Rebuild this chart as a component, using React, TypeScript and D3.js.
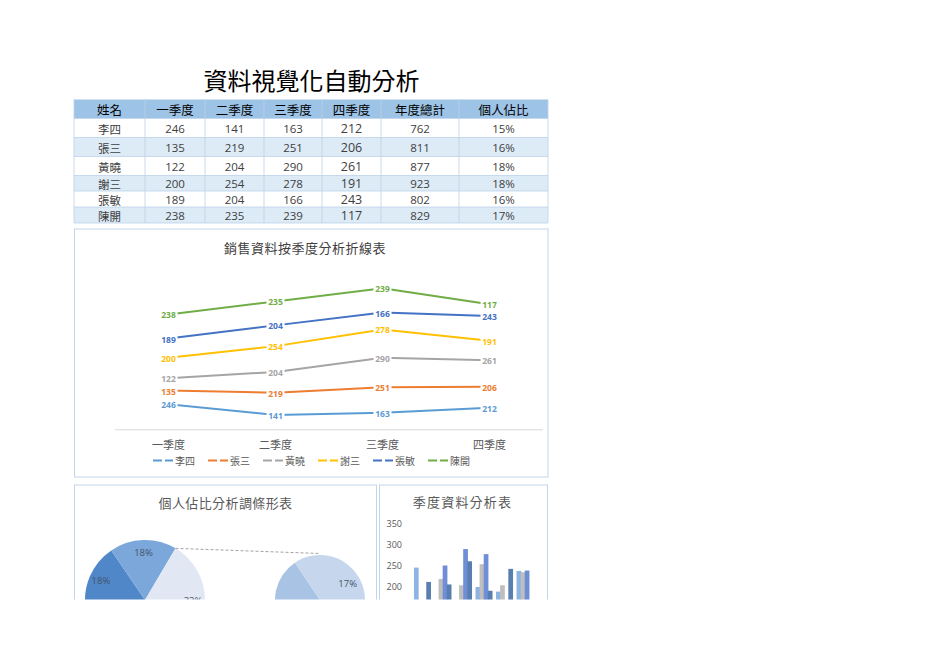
import React from 'react';
import * as d3 from 'd3';

const names = ['李四', '張三', '黃曉', '謝三', '張敏', '陳開'];
const quarters = ['一季度', '二季度', '三季度', '四季度'];
const q1 = [246, 135, 122, 200, 189, 238];
const q2 = [141, 219, 204, 254, 204, 235];
const q3 = [163, 251, 290, 278, 166, 239];
const q4 = [212, 206, 261, 191, 243, 117];
const totals = [762, 811, 877, 923, 802, 829];
const shares = [15, 16, 18, 18, 16, 17];
const headers = ['姓名', '一季度', '二季度', '三季度', '四季度', '年度總計', '個人佔比'];
const barTicks = [0, 50, 100, 150, 200, 250, 300, 350];

const seriesColors = ['#5B9BD5', '#ED7D31', '#A5A5A5', '#FFC000', '#4472C4', '#70AD47'];
const barColors = ['#8DB4E2', '#BEBEBE', '#6E8ED6', '#587FB0'];
const mainPieColors = ['#2E5E9A', '#3B70B5', '#4F87C9', '#7BA7DB', '#E1E8F3'];
const secondPieColors = ['#A9C3E5', '#C6D6ED'];

const CJK = "'Noto Sans CJK TC', 'Noto Sans', sans-serif";
const NUM = "'Open Sans', 'Noto Sans CJK TC', sans-serif";
const CUT_Y = 599.5;

const quarterValues = [q1, q2, q3, q4];

function Table() {
  const colX = d3.scaleOrdinal<number, number>().domain(d3.range(8)).range([74, 145, 205, 264, 322, 381, 459, 548]);
  const rowY = [99.5, 118.5, 137.5, 156.5, 175.5, 191, 207, 223];
  const rows = names.map((n, i) => [n, q1[i], q2[i], q3[i], q4[i], totals[i], shares[i] + '%']);
  return (
    <g>
      <text x={311.5} y={79} textAnchor="middle" dominantBaseline="central" fontFamily={CJK} fontSize={24} fill="#000">資料視覺化自動分析</text>
      <rect x={74} y={rowY[0]} width={474} height={rowY[1] - rowY[0]} fill="#9DC3E6" />
      {rows.map((r, i) => (
        <rect key={'bg' + i} x={74} y={rowY[i + 1]} width={474} height={rowY[i + 2] - rowY[i + 1]} fill={i % 2 === 1 ? '#DDEBF7' : '#FFFFFF'} />
      ))}
      {d3.range(1, 8).map(i => (
        <line key={'h' + i} x1={74} x2={548} y1={rowY[i]} y2={rowY[i]} stroke="#BDD2EA" strokeWidth={0.8} />
      ))}
      {d3.range(0, 8).map(c => (
        <line key={'v' + c} x1={colX(c)} x2={colX(c)} y1={rowY[0]} y2={rowY[7]} stroke={c === 0 || c === 7 ? '#BDD2EA' : '#BFCFE3'} strokeWidth={0.8} />
      ))}
      {headers.map((h, c) => (
        <text key={'hd' + c} x={(colX(c) + colX(c + 1)) / 2} y={(rowY[0] + rowY[1]) / 2} textAnchor="middle" dominantBaseline="central" fontFamily={CJK} fontSize={12.5} fill="#000">{h}</text>
      ))}
      {rows.map((r, i) => r.map((v, c) => (
        <text key={'c' + i + '_' + c} x={(colX(c) + colX(c + 1)) / 2} y={(rowY[i + 1] + rowY[i + 2]) / 2 + 0.5} textAnchor="middle" dominantBaseline="central"
          fontFamily={c === 0 ? CJK : NUM} fontSize={c === 4 ? 12.5 : 11.5} fill="#404040">{String(v)}</text>
      )))}
    </g>
  );
}

function LineChart() {
  const stackRows = quarters.map((q, j) => {
    const r: any = { quarter: q };
    names.forEach((n, i) => { r[n] = quarterValues[j][i]; });
    return r;
  });
  const stacked = d3.stack<any>().keys(names)(stackRows);
  const x = d3.scalePoint<string>().domain(quarters).range([115, 543]).padding(0.5);
  const y = d3.scaleLinear().domain([0, 1600]).range([429.3, 266.6]);
  const line = d3.line<any>().x(d => x(d.data.quarter) as number).y(d => y(d[1]));
  return (
    <g>
      <rect x={74.5} y={229} width={473.5} height={248} fill="#fff" stroke="#C3D5EA" strokeWidth={1} />
      <text x={305} y={247} textAnchor="middle" dominantBaseline="central" fontFamily={CJK} fontSize={13} letterSpacing={0.5} fill="#404040">銷售資料按季度分析折線表</text>
      <line x1={115} x2={543} y1={429.8} y2={429.8} stroke="#D9D9D9" strokeWidth={1} />
      {stacked.map((s, i) => (
        <path key={'l' + i} d={line(s as any) || ''} fill="none" stroke={seriesColors[i]} strokeWidth={2} strokeLinejoin="round" />
      ))}
      {stacked.map((s, i) => s.map((d: any, j: number) => (
        <g key={'lb' + i + '_' + j}>
          <rect x={(x(d.data.quarter) as number) - 9} y={y(d[1]) - 5} width={18} height={10} fill="#fff" />
          <text x={x(d.data.quarter)} y={y(d[1]) + 0.5} textAnchor="middle" dominantBaseline="central" fontFamily={NUM} fontWeight={700} fontSize={8.5} fill={seriesColors[i]}>{quarterValues[j][i]}</text>
        </g>
      )))}
      {quarters.map(q => (
        <text key={'q' + q} x={x(q)} y={443.5} textAnchor="middle" dominantBaseline="central" fontFamily={CJK} fontSize={11} fill="#595959">{q}</text>
      ))}
      {names.map((n, i) => {
        const lx = 153 + i * 55;
        return (
          <g key={'lg' + i}>
            <line x1={lx} x2={lx + 20} y1={460.5} y2={460.5} stroke={seriesColors[i]} strokeWidth={2} strokeDasharray="9 3" />
            <text x={lx + 22} y={460.5} dominantBaseline="central" fontFamily={CJK} fontSize={10} fill="#595959">{n}</text>
          </g>
        );
      })}
    </g>
  );
}

function PieChart() {
  const other = shares[4] + shares[5];
  const mainData = [shares[0], shares[1], shares[2], shares[3], other];
  const a0 = Math.PI / 2 + (other / 100) * Math.PI;
  const pie = d3.pie<number>().sort(null).value(d => d).startAngle(a0).endAngle(a0 + 2 * Math.PI);
  const mainArcs = pie(mainData);
  const r1 = 60;
  const c1 = [145, 600];
  const arc1 = d3.arc<any>().innerRadius(0).outerRadius(r1);
  const lab1 = d3.arc<any>().innerRadius(r1 * 0.8).outerRadius(r1 * 0.8);

  const secData = [shares[4], shares[5]];
  const b0 = (151.5 / 180) * Math.PI;
  const pie2 = d3.pie<number>().sort(null).value(d => d).startAngle(b0).endAngle(b0 + 2 * Math.PI);
  const secArcs = pie2(secData);
  const r2 = 45;
  const c2 = [320, 600];
  const arc2 = d3.arc<any>().innerRadius(0).outerRadius(r2);
  const lab2 = d3.arc<any>().innerRadius(r2 * 0.72).outerRadius(r2 * 0.72);

  const otherArc = mainArcs[4];
  const tx = c1[0] + r1 * Math.sin(otherArc.startAngle);
  const ty = c1[1] - r1 * Math.cos(otherArc.startAngle);

  return (
    <g>
      <rect x={74.5} y={485} width={302} height={200} fill="#fff" stroke="#C3D5EA" strokeWidth={1} />
      <text x={225.5} y={502.5} textAnchor="middle" dominantBaseline="central" fontFamily={CJK} fontSize={13} letterSpacing={0.4} fill="#595959">個人佔比分析調條形表</text>
      <g transform={`translate(${c1[0]},${c1[1]})`}>
        {mainArcs.map((a, i) => (
          <path key={'m' + i} d={arc1(a) || ''} fill={mainPieColors[i]} />
        ))}
        {mainArcs.map((a, i) => {
          const [lx, ly] = lab1.centroid(a);
          if (c1[1] + ly - 5 > CUT_Y) return null;
          return <text key={'mt' + i} x={lx} y={ly} textAnchor="middle" dominantBaseline="central" fontFamily={NUM} fontSize={9.5} fill="#44546A">{a.data}%</text>;
        })}
      </g>
      <g transform={`translate(${c2[0]},${c2[1]})`}>
        {secArcs.map((a, i) => (
          <path key={'s' + i} d={arc2(a) || ''} fill={secondPieColors[i]} />
        ))}
        {secArcs.map((a, i) => {
          const [lx, ly] = lab2.centroid(a);
          if (c2[1] + ly - 5 > CUT_Y) return null;
          return <text key={'st' + i} x={lx} y={ly} textAnchor="middle" dominantBaseline="central" fontFamily={NUM} fontSize={9.5} fill="#44546A">{a.data}%</text>;
        })}
      </g>
      <line x1={tx} y1={ty} x2={c2[0]} y2={c2[1] - r2 - 1.5} stroke="#8C8C8C" strokeWidth={0.8} strokeDasharray="3 2" />
    </g>
  );
}

function BarChart() {
  const x0 = d3.scaleBand<string>().domain(names).range([411.9, 535]).paddingInner(0.2).paddingOuter(0.1);
  const x1 = d3.scaleBand<string>().domain(quarters).range([0, x0.bandwidth()]);
  const y = d3.scaleLinear().domain([0, 350]).range([671.2, 523.8]);
  const bw = x1.bandwidth() * 1.15;
  return (
    <g>
      <rect x={379.5} y={485} width={168} height={200} fill="#fff" stroke="#C3D5EA" strokeWidth={1} />
      <text x={462.5} y={501.5} textAnchor="middle" dominantBaseline="central" fontFamily={CJK} fontSize={13} letterSpacing={1.2} fill="#595959">季度資料分析表</text>
      {barTicks.filter(t => y(t) + 5 < CUT_Y).map(t => (
        <text key={'t' + t} x={402} y={y(t)} textAnchor="end" dominantBaseline="central" fontFamily={NUM} fontSize={9} fill="#595959">{t}</text>
      ))}
      {names.map((n, i) => quarters.map((q, j) => (
        <rect key={'b' + i + '_' + j} x={(x0(n) as number) + (x1(q) as number)} y={y(quarterValues[j][i])} width={bw}
          height={y(0) - y(quarterValues[j][i])} fill={barColors[j]} />
      )))}
    </g>
  );
}

export default function App() {
  return (
    <svg width={936} height={662} viewBox="0 0 936 662" style={{ position: 'absolute', left: 0, top: 0, background: '#fff' }}>
      <defs>
        <clipPath id="cutBottom">
          <rect x={0} y={0} width={936} height={CUT_Y} />
        </clipPath>
      </defs>
      <rect x={0} y={0} width={936} height={662} fill="#fff" />
      <Table />
      <LineChart />
      <g clipPath="url(#cutBottom)">
        <PieChart />
        <BarChart />
      </g>
    </svg>
  );
}
